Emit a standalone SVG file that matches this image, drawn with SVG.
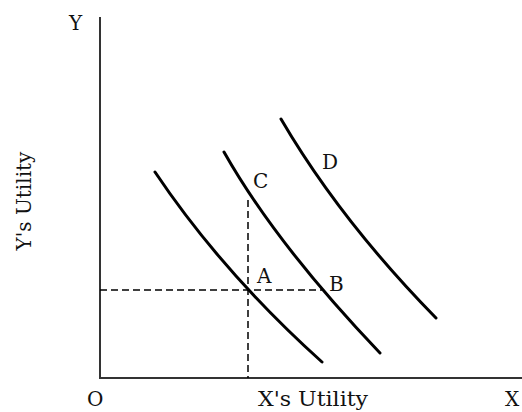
<svg xmlns="http://www.w3.org/2000/svg" width="522" height="412" viewBox="0 0 522 412">
<style>
.ax{stroke:#333;stroke-width:2;fill:none}
.cv{stroke:#000;stroke-width:3;fill:none;stroke-linecap:round}
.dl{stroke:#000;stroke-width:1.5;fill:none;stroke-dasharray:7,4}
text{font-family:"DejaVu Serif","Liberation Serif",serif;font-size:20px;fill:#111}
</style>
<rect width="522" height="412" fill="#fff"/>
<g id="axes">
<path class="ax" d="M100,17 V378 H522"/>
<text x="69" y="30">Y</text>
<text x="87" y="406">O</text>
<text x="505" y="406">X</text>
<text x="258" y="406" textLength="110" lengthAdjust="spacingAndGlyphs">X's Utility</text>
<text transform="translate(31,201) rotate(-90)" text-anchor="middle">Y's Utility</text>
</g>
<g id="guides">
<path class="dl" d="M100,290 H322"/>
<path class="dl" d="M248,200 V378"/>
</g>
<g id="curve1"><path class="cv" d="M155,172 Q222,272 322,362"/></g>
<g id="curve2"><path class="cv" d="M224,152 Q276,244 380,353"/></g>
<g id="curve3"><path class="cv" d="M281,119 Q340,220 436,318"/></g>
<g id="labels">
<text x="257" y="283">A</text>
<text x="329" y="291">B</text>
<text x="253" y="188">C</text>
<text x="322" y="169">D</text>
</g>
</svg>
